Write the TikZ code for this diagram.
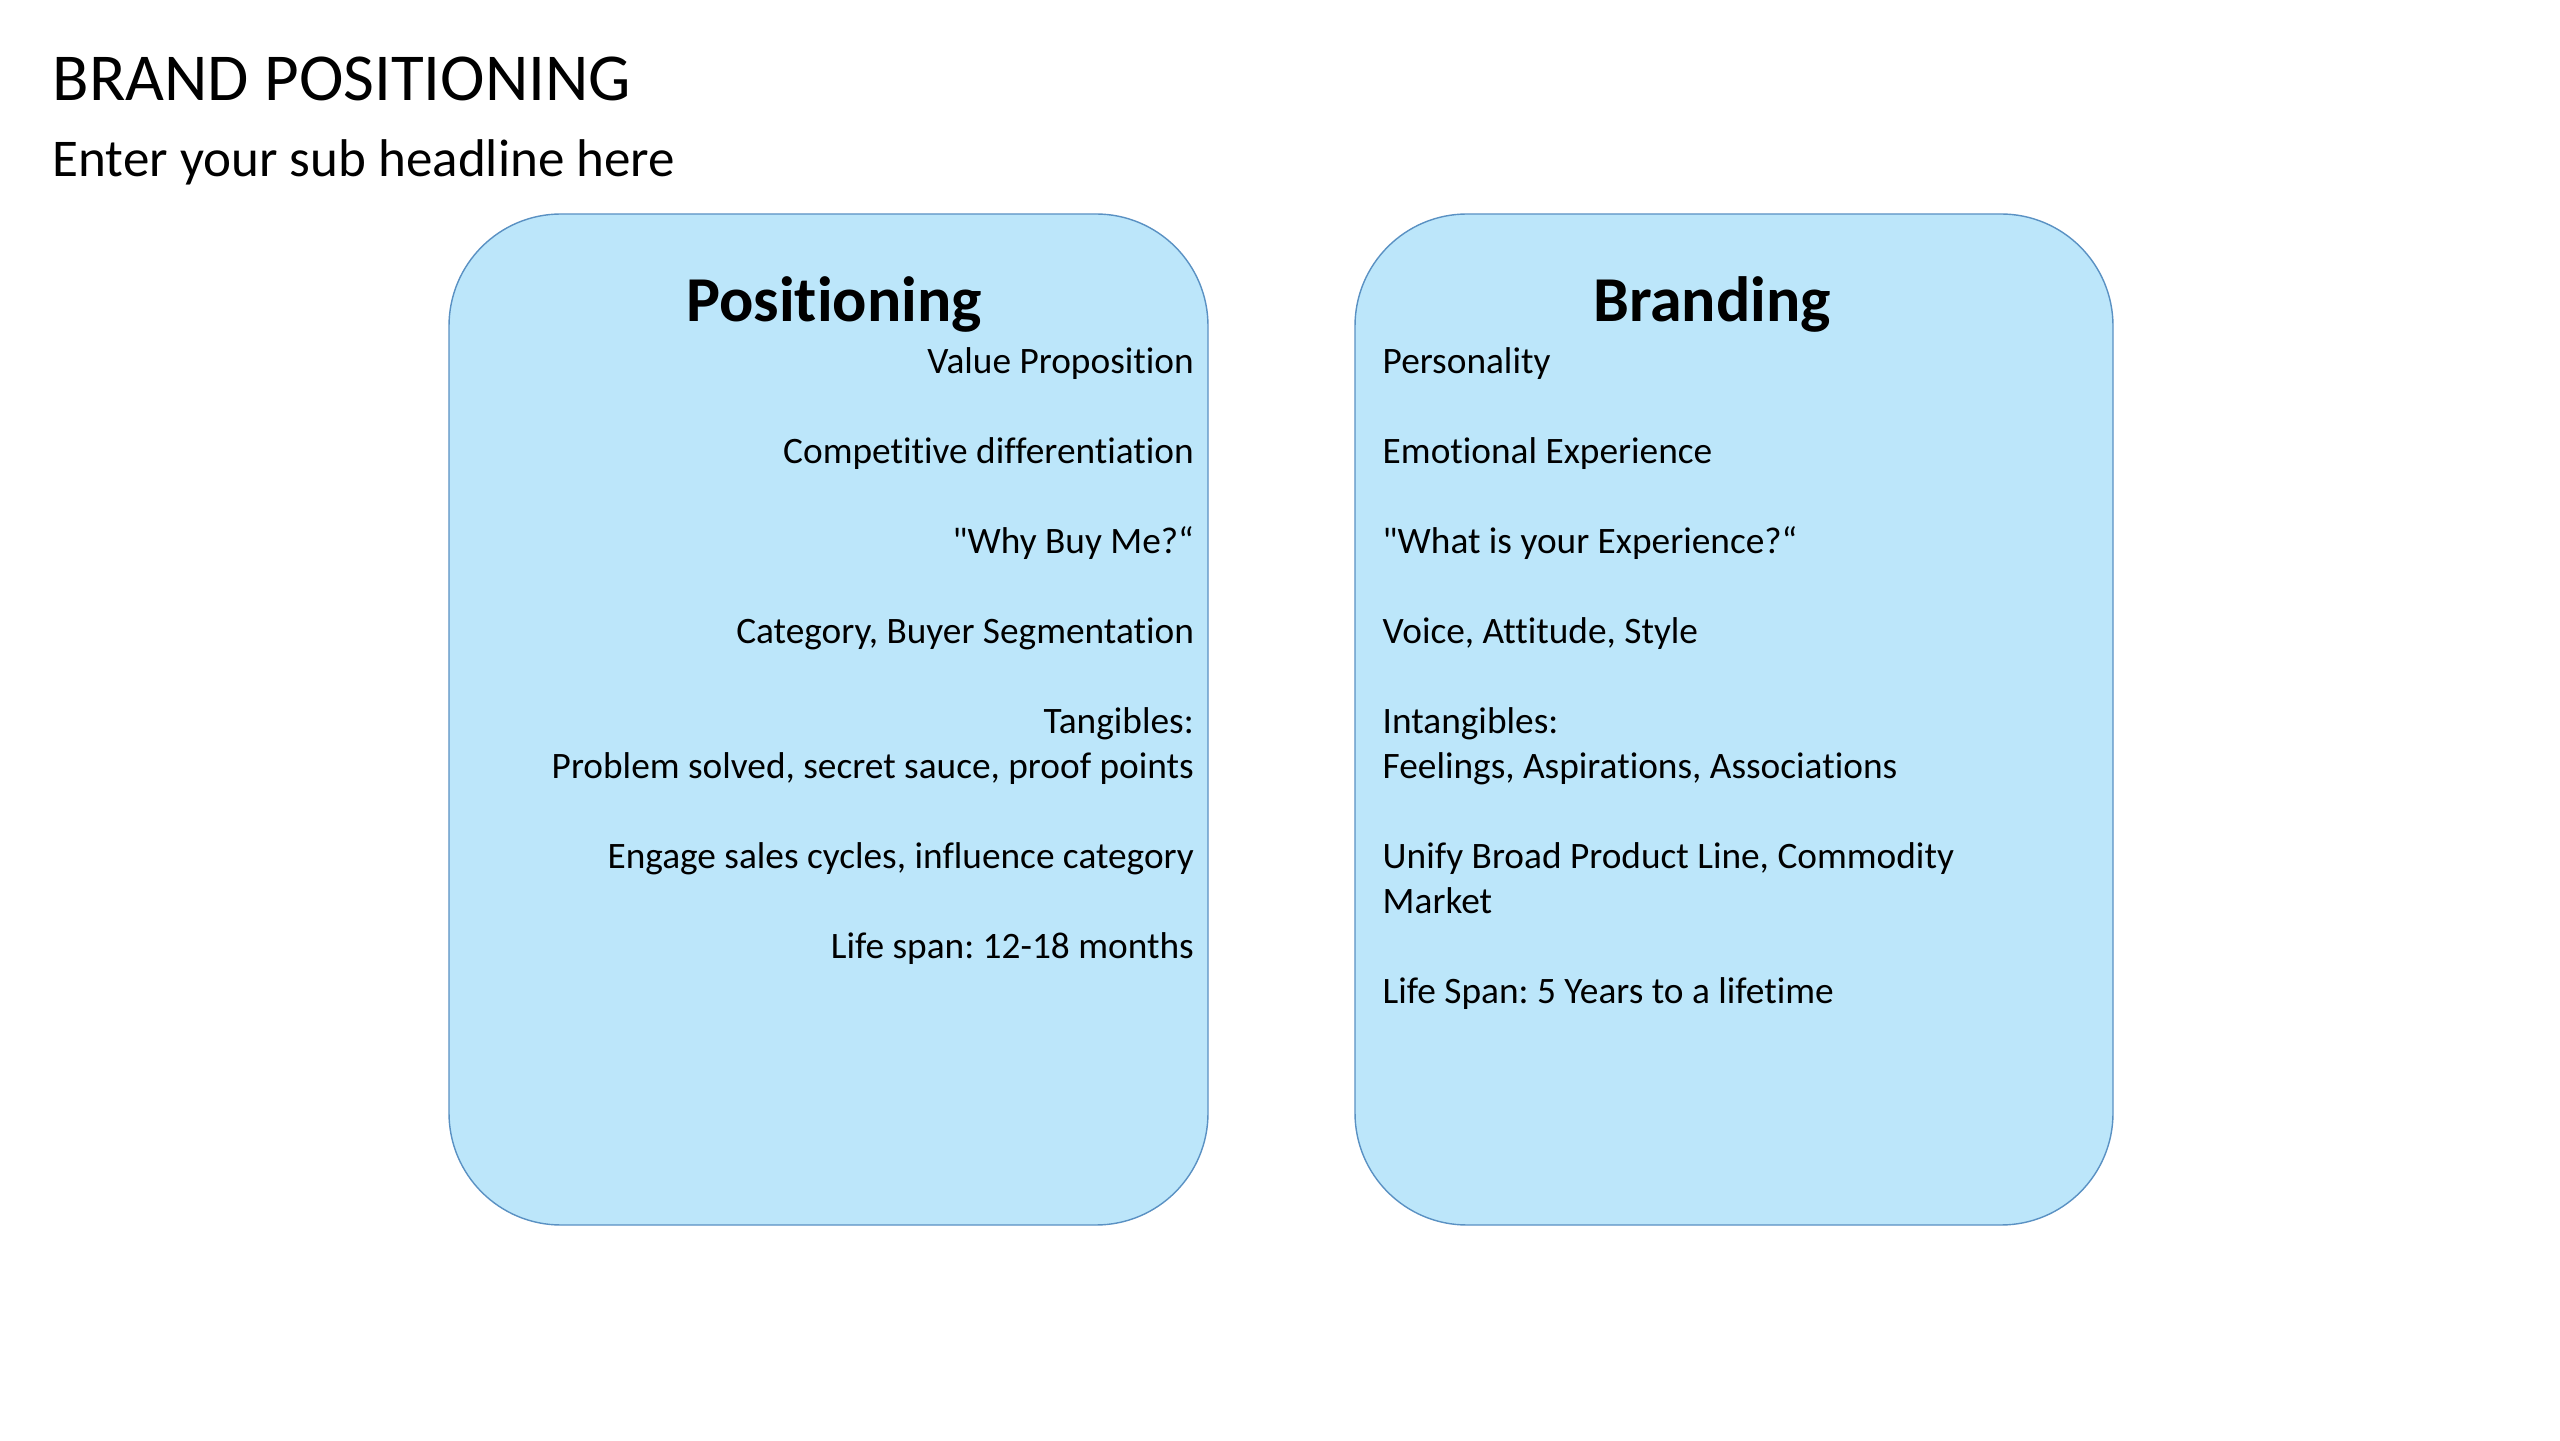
\documentclass[tikz,border=0pt]{standalone}
\usepackage{fontspec}
\setmainfont{Carlito}[Ligatures={TeXOff,NoCommon}]
\definecolor{panelfill}{RGB}{188,230,250}
\definecolor{paneledge}{RGB}{90,145,195}
\frenchspacing

\begin{document}
\begin{tikzpicture}[
  panel/.style={fill=panelfill, draw=paneledge, line width=0.4pt, rounded corners=1.12cm},
  heading/.style={anchor=base, inner sep=0pt, font=\fontsize{18.2}{22}\selectfont\bfseries},
  body/.style={inner sep=0pt, font=\fontsize{10.62}{12.8}\selectfont}
]

\fill[white] (0,0) rectangle (25.6,14.4);
\useasboundingbox (0,0) rectangle (25.6,14.4);

\node[anchor=base west, inner sep=0pt, font=\fontsize{19.1}{23}\selectfont] (title) at (0.52,13.39) {BRAND POSITIONING};
\node[anchor=base west, inner sep=0pt, font=\fontsize{15.1}{18}\selectfont] (subtitle) at (0.52,12.635) {Enter your sub headline here};


\draw[panel] (4.49,12.26) rectangle (12.08,2.15);
\draw[panel] (13.55,12.26) rectangle (21.13,2.15);


\node[heading] (positioning) at (8.34,11.18) {Positioning};
\node[body, anchor=base east] (poslist) at (11.945,10.66) {\begin{tabular}[t]{@{}r@{}}
Value Proposition\\ \\
Competitive differentiation\\ \\
"Why Buy Me?“\\ \\
Category, Buyer Segmentation\\ \\
Tangibles:\\
Problem solved, secret sauce, proof points\\ \\
Engage sales cycles, influence category\\ \\
Life span: 12-18 months
\end{tabular}};


\node[heading] (branding) at (17.12,11.18) {Branding};
\node[body, anchor=base west] (brandlist) at (13.82,10.66) {\begin{tabular}[t]{@{}l@{}}
Personality\\ \\
Emotional Experience\\ \\
"What is your Experience?“\\ \\
Voice, Attitude, Style\\ \\
Intangibles:\\
Feelings, Aspirations, Associations\\ \\
Unify Broad Product Line, Commodity\\
Market\\ \\
Life Span: 5 Years to a lifetime
\end{tabular}};
\end{tikzpicture}
\end{document}
